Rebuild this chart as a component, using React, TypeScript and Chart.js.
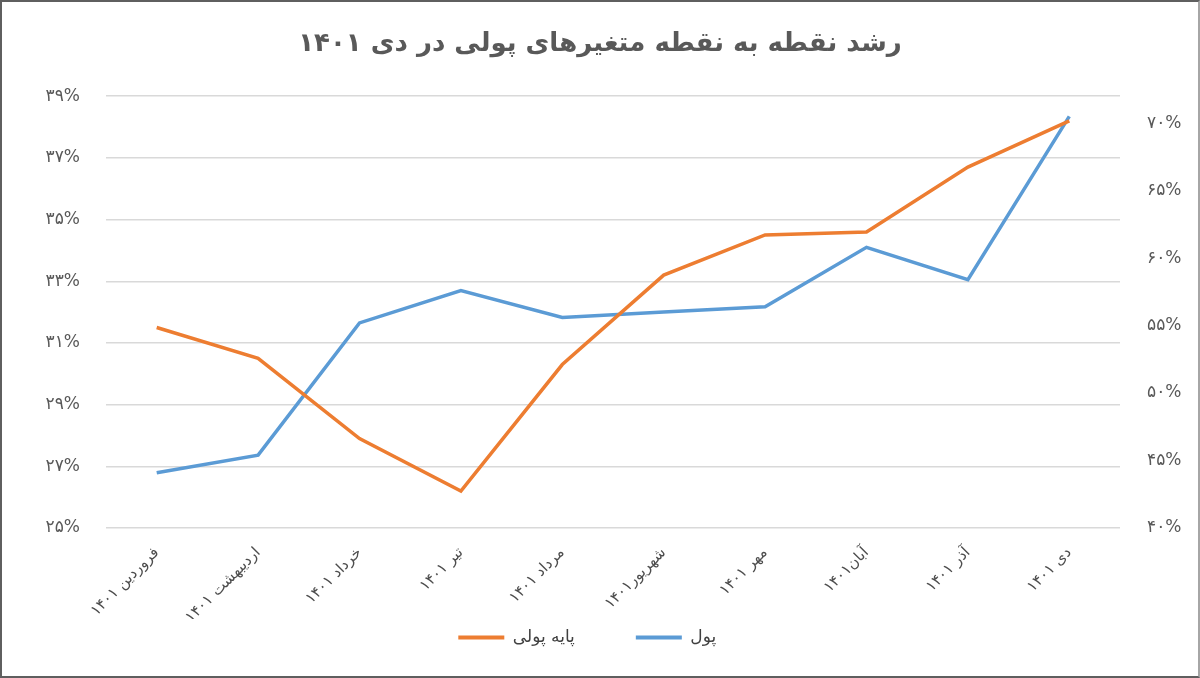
import { useEffect, useRef } from "react"
import { Chart, registerables, type ChartConfiguration } from "chart.js"

Chart.register(...registerables)

// months of 1401 (category axis)
const months = [
  "فروردین ۱۴۰۱",
  "اردیبهشت ۱۴۰۱",
  "خرداد ۱۴۰۱",
  "تیر ۱۴۰۱",
  "مرداد ۱۴۰۱",
  "شهریور۱۴۰۱",
  "مهر ۱۴۰۱",
  "آبان۱۴۰۱",
  "آذر ۱۴۰۱",
  "دی ۱۴۰۱",
]

// point-to-point growth, percent
const baseMoney = [31.5, 30.5, 27.9, 26.2, 30.3, 33.2, 34.5, 34.6, 36.7, 38.2]
const money = [44.1, 45.4, 55.2, 57.6, 55.6, 56.0, 56.4, 60.8, 58.4, 70.5]

const leftTicks = [25, 27, 29, 31, 33, 35, 37, 39]
const rightTicks = [40, 45, 50, 55, 60, 65, 70]

const faDigits = (v: number | string) =>
  String(v).replace(/\d/g, (d) => "۰۱۲۳۴۵۶۷۸۹"[Number(d)])

const FONT = "'DejaVu Sans', 'Noto Sans', sans-serif"

export default function App() {
  const canvasRef = useRef<HTMLCanvasElement>(null)
  const chartRef = useRef<Chart | null>(null)

  useEffect(() => {
    document.body.style.margin = "0"
    if (!canvasRef.current) return
    const ctx = canvasRef.current.getContext("2d")
    if (!ctx) return

    if (chartRef.current) chartRef.current.destroy()

    const config: ChartConfiguration<"line"> = {
      type: "line",
      data: {
        labels: months,
        datasets: [
          {
            label: "پایه پولی",
            data: baseMoney,
            borderColor: "#ED7D31",
            backgroundColor: "#ED7D31",
            borderWidth: 3.5,
            pointRadius: 0,
            tension: 0,
            yAxisID: "y",
          },
          {
            label: "پول",
            data: money,
            borderColor: "#5B9BD5",
            backgroundColor: "#5B9BD5",
            borderWidth: 3.5,
            pointRadius: 0,
            tension: 0,
            yAxisID: "y1",
          },
        ],
      },
      options: {
        responsive: false,
        animation: false,
        layout: { padding: { top: 0, left: 0, right: 0, bottom: 20 } },
        plugins: {
          title: {
            display: true,
            text: "رشد نقطه به نقطه متغیرهای پولی در دی ۱۴۰۱",
            color: "#595959",
            font: { family: FONT, size: 26, weight: "bold", lineHeight: 1.2 },
            padding: { top: 27, bottom: 36 },
          },
          legend: {
            position: "bottom",
            labels: {
              boxWidth: 46,
              boxHeight: 4,
              padding: 10,
              color: "#404040",
              font: { family: FONT, size: 17 },
              // trailing spaces widen the gap between items and nudge the row left
              generateLabels: (chart) =>
                chart.data.datasets.map((ds, i) => ({
                  text: (ds.label as string) + (i === 0 ? "\u2003\u2003\u2003" : "\u2003\u2002"),
                  fillStyle: ds.borderColor as string,
                  strokeStyle: ds.borderColor as string,
                  lineWidth: 0,
                  hidden: false,
                  datasetIndex: i,
                  fontColor: "#404040",
                })),
            },
          },
          tooltip: { enabled: false },
        },
        scales: {
          x: {
            offset: true,
            grid: { display: false, drawTicks: false },
            border: { display: false },
            ticks: {
              autoSkip: false,
              minRotation: 45,
              maxRotation: 45,
              padding: 16,
              color: "#4d4d4d",
              font: { family: FONT, size: 15 },
            },
            afterFit: (scale) => {
              scale.height = 91
            },
          },
          y: {
            position: "left",
            min: 25,
            max: 39,
            grid: { color: "#d9d9d9", lineWidth: 1.5, drawTicks: false },
            border: { display: false },
            ticks: {
              padding: 26,
              color: "#595959",
              font: { family: FONT, size: 17 },
              callback: (v) => faDigits(v) + "%",
            },
            afterBuildTicks: (axis) => {
              axis.ticks = leftTicks.map((value) => ({ value }))
            },
            afterFit: (scale) => {
              scale.width = 104
            },
          },
          y1: {
            position: "right",
            min: 40,
            max: 72,
            grid: { drawOnChartArea: false, drawTicks: false },
            border: { display: false },
            ticks: {
              padding: 27,
              color: "#595959",
              font: { family: FONT, size: 17 },
              callback: (v) => faDigits(v) + "%",
            },
            afterBuildTicks: (axis) => {
              axis.ticks = rightTicks.map((value) => ({ value }))
            },
            afterFit: (scale) => {
              scale.width = 78
            },
          },
        },
      },
    }

    chartRef.current = new Chart(ctx, config)

    return () => {
      if (chartRef.current) {
        chartRef.current.destroy()
        chartRef.current = null
      }
    }
  }, [])

  return (
    <div
      style={{
        width: 1200,
        height: 678,
        boxSizing: "border-box",
        border: "2px solid #5f5f5f",
        borderRightColor: "#a6a6a6",
        background: "#fff",
      }}
    >
      <canvas ref={canvasRef} width={1196} height={674} style={{ display: "block" }} />
    </div>
  )
}
